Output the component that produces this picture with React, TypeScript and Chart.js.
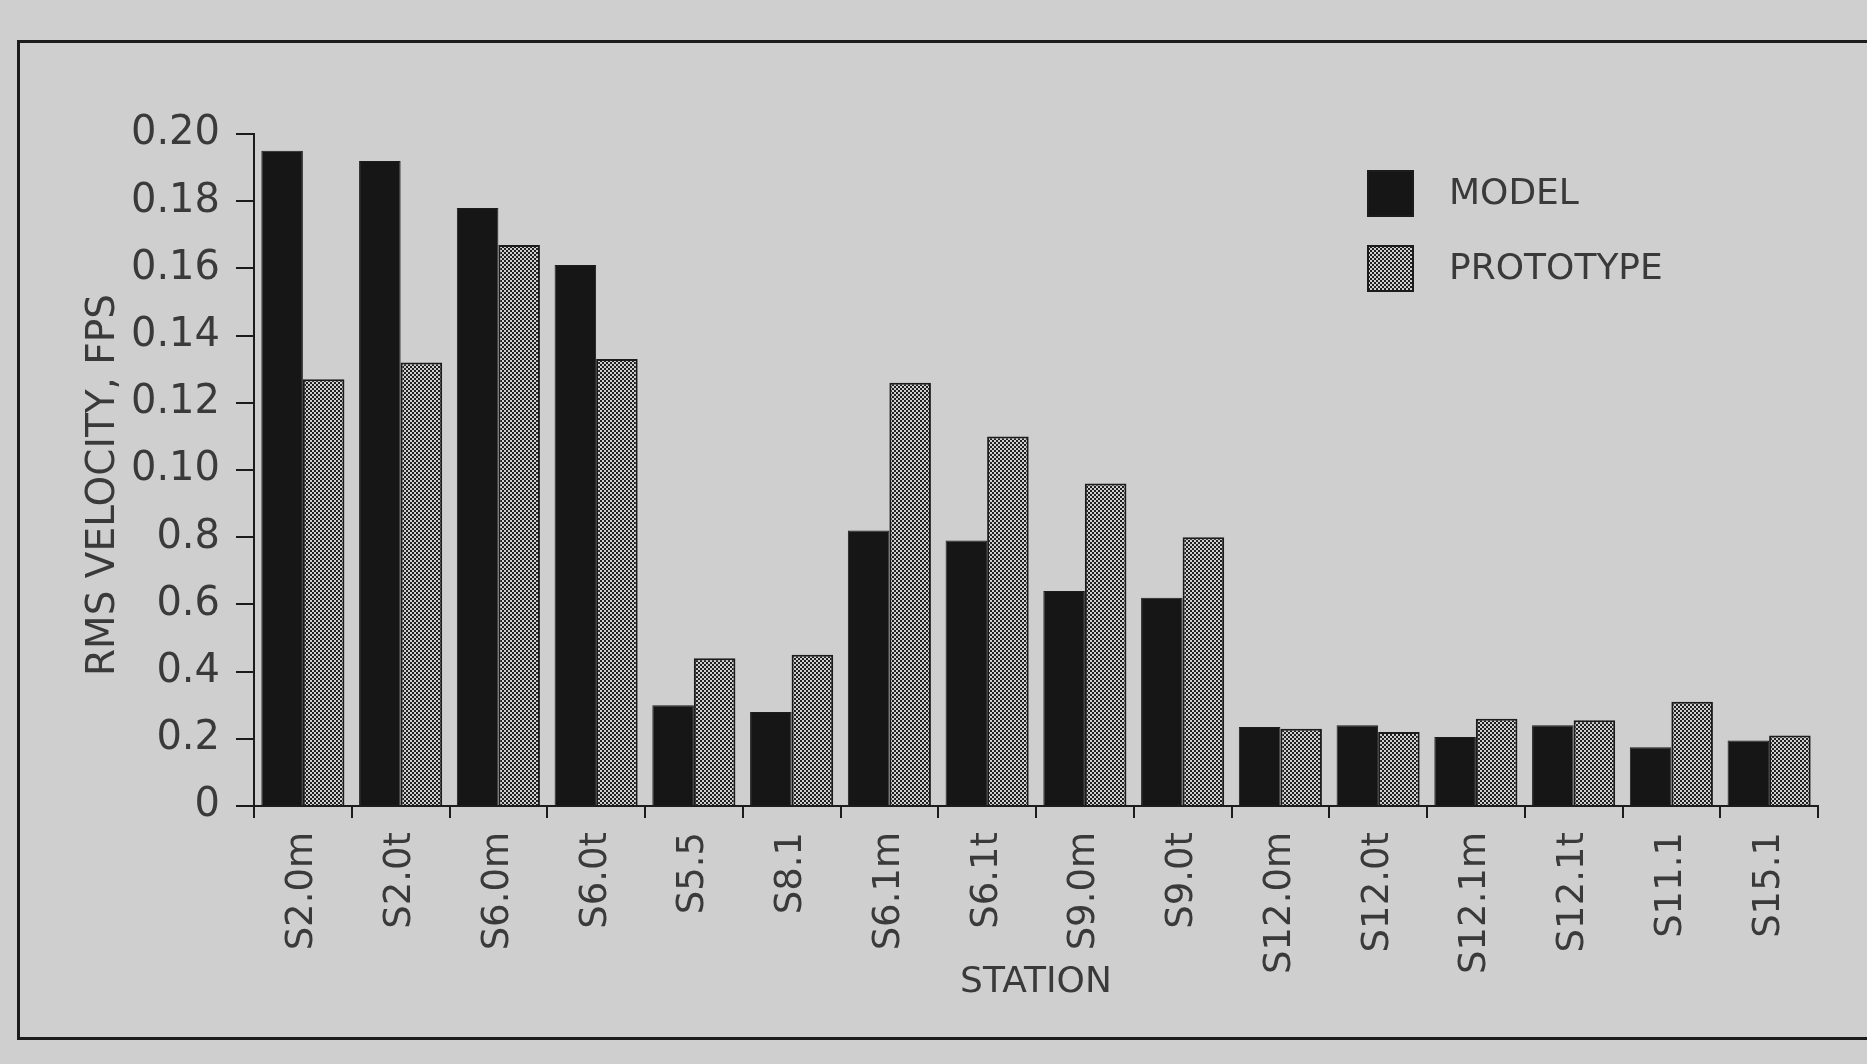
import React, { useEffect, useRef } from 'react';
import { Chart, registerables } from 'chart.js';

Chart.register(...registerables);

const stations = ['S2.0m', 'S2.0t', 'S6.0m', 'S6.0t', 'S5.5', 'S8.1', 'S6.1m', 'S6.1t', 'S9.0m', 'S9.0t', 'S12.0m', 'S12.0t', 'S12.1m', 'S12.1t', 'S11.1', 'S15.1'];
const modelValues = [0.195, 0.192, 0.178, 0.161, 0.030, 0.028, 0.082, 0.079, 0.064, 0.062, 0.0235, 0.024, 0.0205, 0.024, 0.0175, 0.0195];
const prototypeValues = [0.127, 0.132, 0.167, 0.133, 0.044, 0.045, 0.126, 0.110, 0.096, 0.080, 0.023, 0.022, 0.026, 0.0255, 0.031, 0.021];
const yTickLabels = ['0', '0.2', '0.4', '0.6', '0.8', '0.10', '0.12', '0.14', '0.16', '0.18', '0.20'];
const seriesNames = ['MODEL', 'PROTOTYPE'];
const xTitle = 'STATION';
const yTitle = 'RMS VELOCITY, FPS';

const W = 1867;
const H = 1064;
const BG = '#cfcfcf';
const INK = '#1c1c1c';
const TEXT = '#3a3a3a';
const FONT = '"DejaVu Sans", "Open Sans", sans-serif';

export default function App() {
  const canvasRef = useRef<HTMLCanvasElement | null>(null);

  useEffect(() => {
    const canvas = canvasRef.current;
    if (!canvas) return;
    const ctx = canvas.getContext('2d');
    if (!ctx) return;

    const pc = document.createElement('canvas');
    pc.width = 4;
    pc.height = 4;
    const g = pc.getContext('2d')!;
    g.fillStyle = '#d0d0d0';
    g.fillRect(0, 0, 4, 4);
    g.fillStyle = '#202020';
    g.fillRect(0, 0, 2, 2);
    g.fillRect(2, 2, 2, 2);
    const pattern = ctx.createPattern(pc, 'repeat') as CanvasPattern;

    const customPlugin = {
      id: 'customDecor',
      afterDraw(chart: any) {
        const c = chart.ctx as CanvasRenderingContext2D;
        c.save();
        c.translate(104, 485);
        c.rotate(-Math.PI / 2);
        c.font = `39px ${FONT}`;
        c.fillStyle = TEXT;
        c.textAlign = 'center';
        c.textBaseline = 'middle';
        c.fillText(yTitle, 0, 0);
        c.restore();

        chart.data.datasets.forEach((ds: any, i: number) => {
          const x = 1367;
          const y = 170 + i * 75;
          const s = 47;
          c.save();
          c.fillStyle = ds.backgroundColor;
          c.fillRect(x, y, s, s);
          c.strokeStyle = INK;
          c.lineWidth = 2;
          c.strokeRect(x + 1, y + 1, s - 2, s - 2);
          c.fillStyle = TEXT;
          c.font = `36px ${FONT}`;
          c.textAlign = 'left';
          c.textBaseline = 'middle';
          c.fillText(ds.label, 1449, y + s / 2 + 1);
          c.restore();
        });
      },
    };

    const chart = new Chart(ctx, {
      type: 'bar',
      data: {
        labels: stations,
        datasets: [
          {
            label: seriesNames[0],
            data: modelValues,
            backgroundColor: '#161616',
            borderColor: INK,
            borderWidth: 1,
            categoryPercentage: 0.85,
            barPercentage: 1.0,
          },
          {
            label: seriesNames[1],
            data: prototypeValues,
            backgroundColor: pattern as any,
            borderColor: INK,
            borderWidth: 2,
            categoryPercentage: 0.85,
            barPercentage: 1.0,
          },
        ],
      },
      options: {
        responsive: false,
        devicePixelRatio: 1,
        animation: false,
        layout: { padding: { top: 134, right: 49, left: 0, bottom: 0 } },
        plugins: {
          legend: { display: false },
          tooltip: { enabled: false },
          title: { display: false },
        },
        scales: {
          x: {
            offset: true,
            grid: {
              offset: true,
              drawOnChartArea: false,
              drawTicks: true,
              tickLength: 12,
              color: INK,
              lineWidth: 2,
            },
            border: { display: true, color: INK, width: 2 },
            ticks: {
              autoSkip: false,
              minRotation: 90,
              maxRotation: 90,
              padding: 14,
              color: TEXT,
              font: { family: FONT, size: 37 },
            },
            title: {
              display: true,
              text: xTitle,
              color: TEXT,
              font: { family: FONT, size: 36 },
              padding: { top: 0, bottom: 60 },
            },
            afterFit(scale: any) {
              scale.height = 258;
            },
          },
          y: {
            min: 0,
            max: 0.2,
            ticks: {
              stepSize: 0.02,
              padding: 16,
              color: TEXT,
              font: { family: FONT, size: 40 },
              callback: (_v: any, i: number) => yTickLabels[i],
            },
            grid: {
              drawOnChartArea: false,
              drawTicks: true,
              tickLength: 18,
              color: INK,
              lineWidth: 2,
            },
            border: { display: true, color: INK, width: 2 },
            afterFit(scale: any) {
              scale.width = 254;
            },
          },
        },
      },
      plugins: [customPlugin],
    });

    return () => {
      chart.destroy();
    };
  }, []);

  return (
    <div style={{ position: 'fixed', left: 0, top: 0, width: W, height: H, background: BG, overflow: 'hidden' }}>
      <div
        style={{
          position: 'absolute',
          left: 17,
          top: 40,
          width: W,
          height: 1000,
          border: `3px solid ${INK}`,
          boxSizing: 'border-box',
        }}
      />
      <canvas ref={canvasRef} width={W} height={H} style={{ position: 'absolute', left: 0, top: 0, width: W, height: H }} />
    </div>
  );
}
